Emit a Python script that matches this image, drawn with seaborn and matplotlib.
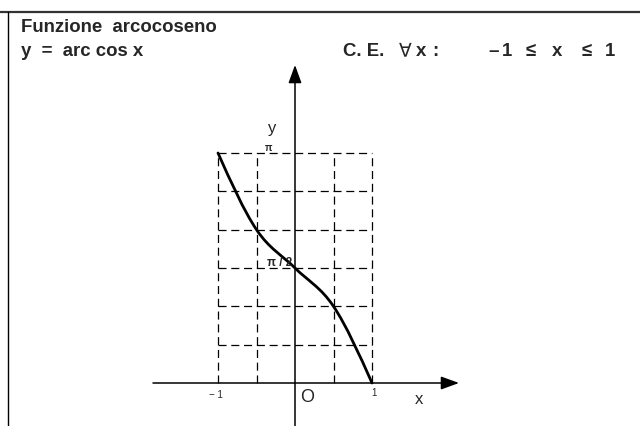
import numpy as np
import matplotlib
matplotlib.use("Agg")
import matplotlib.pyplot as plt
from matplotlib.lines import Line2D
from matplotlib.path import Path
from matplotlib.patches import PathPatch
import seaborn as sns

# Notable points of y = arc cos x
x_pts = [-1.0, -0.5, 0.0, 0.5, 1.0]
y_pts = [np.pi, 2 * np.pi / 3, np.pi / 2, np.pi / 3, 0.0]

# Grid positions
grid_x = [-1.0, -0.5, 0.5, 1.0]
grid_y = [k * np.pi / 6 for k in range(1, 7)]

# Tick labels
x_tick_vals = [-1.0, 1.0]
x_tick_text = ["\u2212 1", "1"]
y_tick_vals = [np.pi, np.pi / 2]
y_tick_text = ["\u03c0", "\u03c0 / 2"]

sns.set_style("white")
plt.rcParams["font.family"] = ["Liberation Sans", "DejaVu Sans"]
plt.rcParams["lines.scale_dashes"] = False

W, H = 640, 426
fig = plt.figure(figsize=(W / 100, H / 100), dpi=100)
ax = fig.add_axes([0, 0, 1, 1])
ax.set_axis_off()

# pixel layout of the coordinate system
ox_px, oy_px = 295.0, 383.0
ux = 77.0
uy = 230.0 / np.pi
ax.set_xlim(-ox_px / ux, (W - ox_px) / ux)
ax.set_ylim(-(H - oy_px) / uy, oy_px / uy)

dash = (0, (5.8, 3.4))
for gx in grid_x:
    ax.plot([gx, gx], [0, np.pi], color="black", lw=0.9, linestyle=dash)
for gy in grid_y:
    ax.plot([-1, 1], [gy, gy], color="black", lw=0.9, linestyle=dash)

# axes with arrows
arrow = dict(arrowstyle="-|>,head_length=0.55,head_width=0.2", color="black",
             lw=1.1, mutation_scale=20, shrinkA=0, shrinkB=0)
ax.annotate("", xy=((459 - ox_px) / ux, 0), xytext=((153 - ox_px) / ux, 0),
            arrowprops=arrow)
ax.annotate("", xy=(0, (oy_px - 65) / uy), xytext=(0, -(H - oy_px) / uy - 0.1),
            arrowprops=arrow)

# smooth curve through the notable points: cubic Hermite pieces drawn as
# Bezier segments (central-difference slopes, natural end conditions)
xp = np.asarray(x_pts)
yp = np.asarray(y_pts)
n = len(xp)
s = np.zeros(n)
for i in range(1, n - 1):
    s[i] = (yp[i + 1] - yp[i - 1]) / (xp[i + 1] - xp[i - 1])
s[0] = (3 * (yp[1] - yp[0]) / (xp[1] - xp[0]) - s[1]) / 2
s[-1] = (3 * (yp[-1] - yp[-2]) / (xp[-1] - xp[-2]) - s[-2]) / 2
verts = [(xp[0], yp[0])]
codes = [Path.MOVETO]
for i in range(n - 1):
    h = (xp[i + 1] - xp[i]) / 3
    verts += [(xp[i] + h, yp[i] + h * s[i]),
              (xp[i + 1] - h, yp[i + 1] - h * s[i + 1]),
              (xp[i + 1], yp[i + 1])]
    codes += [Path.CURVE4] * 3
ax.add_patch(PathPatch(Path(verts, codes), facecolor="none", edgecolor="black",
                       lw=2.0, capstyle="round"))

# tick labels
ax.text(x_tick_vals[0] - 0.03, -0.16, x_tick_text[0], fontsize=7,
        ha="center", va="center")
ax.text(x_tick_vals[1] + 0.03, -0.14, x_tick_text[1], fontsize=7,
        ha="center", va="center")
ax.text(-0.34, y_tick_vals[0] + 0.07, y_tick_text[0], fontsize=7,
        fontweight="bold", ha="center", va="center")
ax.text(-0.03, y_tick_vals[1] + 0.07, y_tick_text[1], fontsize=8.5,
        fontweight="bold", ha="right", va="center")

# axis names
ax.text(-0.30, (oy_px - 128) / uy, "y", fontsize=12, ha="center", va="center")
ax.text((419 - ox_px) / ux, -(400 - oy_px) / uy, "x", fontsize=12,
        ha="center", va="center")
ax.text(0.16, -(398 - oy_px) / uy, "O", fontsize=13, ha="center", va="center")

# page frame
fig.add_artist(Line2D([0, 1], [1 - 12 / H, 1 - 12 / H], color="#333333", lw=1.6))
fig.add_artist(Line2D([8 / W, 8 / W], [0, 1 - 12 / H], color="black", lw=1.0))

# headings
fs = 13.4
base2 = 1 - 56 / H
fig.text(21 / W, 1 - 32 / H, "Funzione  arcocoseno", fontsize=fs,
         fontweight="bold", va="baseline", ha="left")
fig.text(21 / W, base2, "y  =  arc cos x", fontsize=fs,
         fontweight="bold", va="baseline", ha="left")
fig.text(343 / W, base2, "C. E.", fontsize=fs,
         fontweight="bold", va="baseline", ha="left")
fig.text(405 / W, base2, "\u2200", fontsize=fs, va="baseline", ha="center",
         family=["DejaVu Sans"])
for txt, px in [("x", 421), (":", 435), ("\u2013", 494), ("1", 507),
                ("\u2264", 531), ("x", 557), ("\u2264", 587), ("1", 610)]:
    fig.text(px / W, base2, txt, fontsize=fs, fontweight="bold",
             va="baseline", ha="center")

fig.savefig("out.png", dpi=100)
